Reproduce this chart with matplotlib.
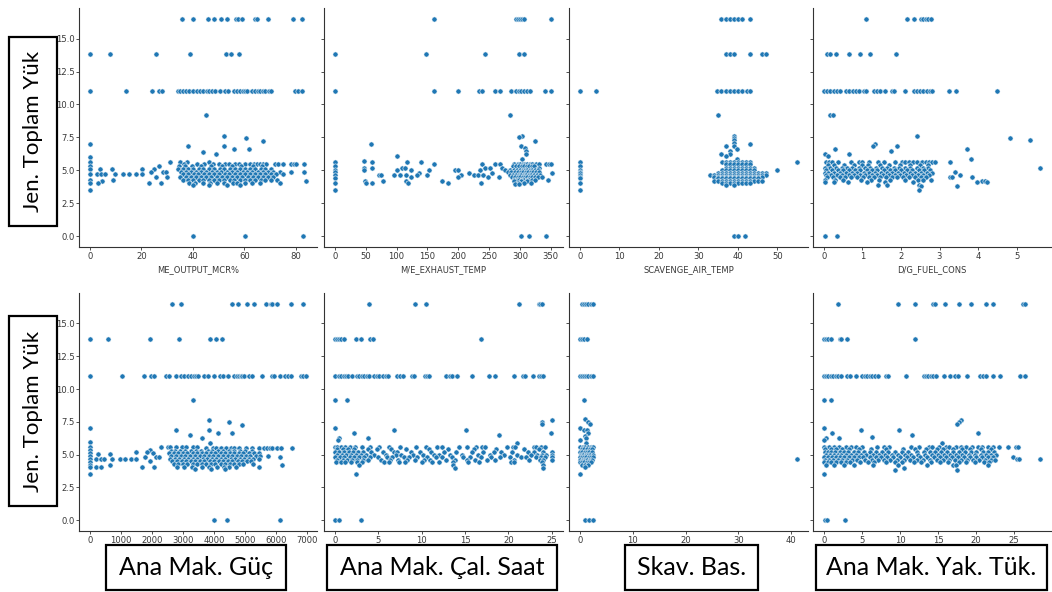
import matplotlib
matplotlib.use("Agg")
import matplotlib.pyplot as plt
from matplotlib.ticker import MultipleLocator
from matplotlib.patches import Rectangle

# ---- data: each panel is a list of (y value, [x values at that y]) ----
mcr_rows = [
    (16.5, [35.9, 40.0, 45.9, 48.4, 51.0, 53.4, 56.8, 57.6, 59.2, 64.3, 64.9, 69.1, 78.8, 82.2]),
    (13.8, [0.0, 7.8, 25.8, 38.8, 53.0, 55.0, 58.1]),
    (11.0, [0.0, 14.0, 24.0, 27.0, 28.0, 34.2, 35.1, 36.3, 37.4, 38.6, 40.0, 41.8, 42.9, 44.1,
            45.3, 46.4, 47.6, 48.7, 50.5, 52.6, 53.8, 56.1, 57.0, 58.2, 59.3, 60.4, 61.2, 63.1,
            64.0, 65.2, 66.1, 67.3, 68.2, 69.4, 70.3, 79.8, 81.0, 82.2]),
    (9.2, [45.2]),
    (7.6, [52.1]), (7.45, [60.7]), (7.25, [67.2]), (7.0, [0.0]), (6.85, [38.1, 51.9]),
    (6.6, [55.9, 61.8]), (6.4, [43.9]), (6.2, [49.1]), (6.0, [0.0]),
    (5.65, [0.0, 31.0, 35.2, 37.9, 46.2]),
    (5.5, [36.4, 41.7, 44.3, 47.8, 50.2, 52.4, 53.9, 56.3, 58.1, 60.2, 62.0, 63.8, 64.9, 66.2,
           67.1, 68.4, 71.8, 73.2, 75.0, 78.1, 79.3, 80.2, 83.1]),
    (5.3, [0.0, 26.9, 34.8, 37.1, 39.6, 43.2, 47.1, 51.3, 55.2, 58.7, 63.3, 66.8]),
    (5.1, [0.0, 3.9, 8.8, 20.4, 24.9, 34.1, 36.2, 38.3, 40.1, 42.4, 44.0, 46.3, 48.2, 50.4,
           52.1, 54.3, 56.2, 58.4, 60.1, 62.3, 64.2, 66.4, 68.1, 70.2]),
    (4.9, [23.9, 28.4, 29.7, 35.3, 37.2, 39.1, 41.3, 43.2, 45.1, 47.3, 49.2, 51.1, 53.3, 55.2,
           57.1, 59.3, 61.2, 63.1, 65.3, 67.2, 69.1, 71.3, 73.9, 78.0, 83.0]),
    (4.7, [0.0, 2.6, 4.5, 5.8, 9.7, 12.7, 15.2, 17.8, 20.4, 36.1, 38.2, 40.3, 42.1, 44.2, 46.3,
           48.1, 50.2, 52.3, 54.1, 56.2, 58.3, 60.1, 62.2, 64.3, 66.1, 68.2, 70.3, 72.1, 75.0]),
    (4.5, [25.8, 30.1, 35.2, 37.3, 39.2, 41.1, 43.3, 45.2, 47.1, 49.3, 51.2, 53.1, 55.3, 57.2,
           59.1, 61.3, 63.2, 65.1, 67.3, 69.2, 71.1]),
    (4.3, [0.0, 9.0, 36.3, 38.1, 40.2, 42.3, 44.1, 46.2, 48.3, 50.1, 52.2, 54.3, 56.1, 58.2,
           60.3, 62.1, 64.2, 66.3, 68.1, 70.2, 72.8]),
    (4.15, [4.9, 84.0]),
    (4.05, [0.0, 3.2, 22.9, 27.8, 38.4, 40.9, 43.8, 46.7, 49.3, 52.1, 55.4, 57.2, 60.1, 62.8,
            65.9, 74.0]),
    (3.85, [40.2, 46.1, 53.2, 58.4]),
    (3.5, [0.0]),
    (0.0, [40.0, 60.1, 82.9]),
]

exh_rows = [
    (16.5, [160.5, 294.0, 297.0, 300.5, 303.5, 307.0, 349.5]),
    (13.8, [0.0, 147.5, 243.0, 298.0, 306.0]),
    (11.0, [0.0, 160.5, 200.0, 234.0, 239.0, 259.0, 267.0, 286.0, 294.0, 298.0, 302.0, 306.0,
            312.0, 316.0, 340.0, 349.5]),
    (9.2, [283.0]),
    (7.6, [303.7]), (7.5, [298.0]), (7.25, [323.6]), (7.0, [59.2]), (6.85, [302.0]),
    (6.7, [307.5]), (6.5, [310.0]), (6.2, [309.0]), (6.05, [100.0]), (5.85, [303.0]),
    (5.7, [47.9]),
    (5.6, [0.0, 60.0, 117.4, 139.0]),
    (5.5, [160.5, 239.0, 259.0, 267.0, 290.0, 296.0, 300.0, 304.0, 308.0, 312.0, 316.0, 320.0,
           326.0, 330.0, 342.5, 346.8, 349.5]),
    (5.3, [0.0, 288.0, 294.0, 299.0, 303.0, 307.0, 311.0, 315.0, 319.0, 323.0]),
    (5.2, [47.9, 60.0, 108.0, 113.6, 244.0, 251.0, 270.0, 330.0]),
    (5.05, [0.0, 47.9, 100.0, 123.0, 152.0, 194.0, 200.0, 234.8, 275.0, 284.0, 290.0, 295.0,
            300.0, 304.0, 308.0, 312.0, 316.0, 320.0, 325.0, 329.0]),
    (4.9, [0.0, 280.6, 286.0, 292.0, 297.0, 301.0, 305.0, 309.0, 313.0, 317.0, 321.0, 326.0, 331.0]),
    (4.78, [136.0, 217.0, 255.0, 352.0]),
    (4.65, [0.0, 72.0, 75.0, 95.0, 105.5, 116.0, 132.5, 148.6, 205.0, 225.0, 232.0, 240.0,
            283.0, 289.0, 294.0, 298.0, 302.0, 306.0, 310.0, 314.0, 318.0, 322.0, 327.0, 333.0]),
    (4.5, [124.0, 198.7, 248.2, 266.0, 287.0, 292.0, 296.0, 300.0, 304.0, 308.0, 312.0, 316.0,
           320.0, 324.0, 329.0, 335.0]),
    (4.4, [0.0]),
    (4.3, [290.0, 295.0, 299.0, 303.0, 307.0, 311.0, 315.0, 319.0, 324.0, 345.0]),
    (4.2, [49.0, 78.6, 115.0, 174.0, 291.0, 301.0, 312.0]),
    (4.07, [0.0, 51.0, 60.0, 119.0, 182.5, 236.4, 296.0, 306.0, 318.0]),
    (3.95, [292.0, 298.0]),
    (3.5, [0.0]),
    (0.0, [302.0, 314.5, 342.5]),
]

scav_temp_rows = [
    (16.5, [35.8, 36.9, 37.9, 39.0, 40.0, 41.1, 43.0]),
    (13.8, [36.9, 37.9, 39.0, 43.0, 46.0, 47.0]),
    (11.0, [0.0, 4.0, 34.8, 35.8, 36.9, 37.9, 39.0, 40.0, 41.1, 42.2, 43.0]),
    (9.2, [35.0]),
    (7.6, [39.0]), (7.45, [39.0]), (7.27, [39.0]), (7.07, [39.0]), (7.0, [43.0]),
    (6.87, [37.1, 39.0]), (6.6, [39.9]), (6.43, [37.9]), (6.2, [35.8, 37.9]), (6.05, [37.1]),
    (5.85, [39.9]),
    (5.62, [0.0, 36, 37, 38, 39, 40, 41, 42, 43, 55.0]),
    (5.5, [37, 38, 39, 40, 41, 42, 43]),
    (5.34, [0.0]),
    (5.2, [37, 38, 39, 40, 41, 42, 43, 44]),
    (5.05, [0.0, 36, 37, 38, 39, 40, 41, 42, 43, 44, 50.0]),
    (4.9, [0.0]),
    (4.83, [0.0, 35, 36, 37, 38, 39, 40, 41, 42, 43, 44, 45, 46, 47]),
    (4.65, [0.0, 33, 34, 35, 36, 37, 38, 39, 40, 41, 42, 43, 44, 45, 46, 47]),
    (4.5, [0.0, 34, 35, 36, 37, 38, 39, 40, 41, 42, 43, 44, 45, 46]),
    (4.4, [0.0, 35, 36, 37, 38, 39, 40, 41, 42, 43, 44, 45]),
    (4.2, [34, 35, 36, 37, 38, 39, 40, 41, 42, 43, 44, 45, 46]),
    (4.07, [0.0, 36, 37, 38, 39, 40, 41, 42, 43]),
    (3.85, [37, 39]),
    (3.5, [0.0]),
    (0.0, [39.0, 40.0, 41.9]),
]

dg_fuel_rows = [
    (16.5, [1.09, 2.15, 2.34, 2.51, 2.58, 2.64, 2.71, 2.77]),
    (13.8, [0.09, 0.15, 0.32, 0.66, 0.95, 1.2, 1.87]),
    (11.0, [0.0, 0.09, 0.17, 0.26, 0.34, 0.43, 0.58, 0.66, 0.75, 0.83, 0.92, 1.03, 1.09, 1.29,
            1.38, 1.46, 1.59, 1.76, 1.81, 2.11, 2.35, 2.41, 2.5, 2.58, 2.67, 2.75, 2.8, 3.24,
            3.44, 4.5]),
    (9.2, [0.17, 0.23]),
    (7.63, [2.41]), (7.45, [4.82]), (7.27, [5.34]), (7.0, [1.32]), (6.87, [1.27, 1.89]),
    (6.64, [0.28, 3.7]), (6.43, [1.75]), (6.23, [0.04, 0.66]), (6.05, [0.11]), (5.85, [3.81]),
    (5.6, [0.05, 0.14, 0.22, 0.37, 0.7, 0.9, 1.0, 1.17, 1.41, 1.56, 1.84, 2.02, 2.1, 2.2, 2.3,
           2.42, 2.55, 2.65, 2.72, 2.8, 2.87, 3.27]),
    (5.4, [0.1, 0.26, 0.52, 0.79, 0.98, 1.14, 1.46, 1.7, 1.98, 2.24, 2.49, 2.69]),
    (5.2, [0.03, 0.16, 0.31, 0.47, 0.61, 0.74, 0.91, 1.06, 1.19, 1.36, 1.52, 1.64, 1.81, 1.96,
           2.11, 2.24, 2.41, 2.56, 2.71, 5.61]),
    (5.0, [0.06, 0.2, 0.36, 0.49, 0.66, 0.81, 0.94, 1.11, 1.26, 1.39, 1.56, 1.71, 1.84, 2.01,
           2.16, 2.29, 2.46, 2.61, 2.76]),
    (4.9, [3.4]),
    (4.8, [0.02, 0.12, 0.27, 0.43, 0.57, 0.73, 0.87, 1.03, 1.17, 1.33, 1.47, 1.63, 1.77, 1.93,
           2.07, 2.23, 2.37, 2.53, 2.67, 2.81]),
    (4.65, [0.05, 0.19, 0.34, 0.48, 0.64, 0.78, 0.94, 1.08, 1.24, 1.38, 1.54, 1.68, 1.84, 1.98,
            2.14, 2.28, 2.44, 2.58, 2.74, 3.53]),
    (4.5, [0.08, 0.23, 0.41, 0.56, 0.71, 0.86, 1.01, 1.16, 1.31, 1.46, 1.61, 1.76, 1.91, 2.06,
           2.21, 2.36, 2.51, 2.66, 3.27, 3.33, 3.83]),
    (4.3, [0.04, 0.29, 0.51, 0.96, 1.22, 1.43, 1.71, 2.11, 2.44, 2.58, 2.79]),
    (4.2, [4.1, 4.17]),
    (4.1, [0.03, 0.26, 0.63, 1.12, 1.58, 2.31, 3.96, 4.23]),
    (3.9, [1.41, 1.63, 2.46]),
    (3.77, [3.46, 2.51]),
    (3.5, [2.48]),
    (0.0, [0.04, 0.34]),
]

me_power_rows = [
    (16.5, [2650, 2950, 4560, 4765, 5063, 5287, 5660, 5820, 5875, 6034, 6472, 6857]),
    (13.8, [0, 587, 1922, 2862, 3877, 4058, 4250]),
    (11.0, [0, 1025, 1741, 1976, 2050, 2456, 2563, 2777, 2937, 3044, 3150, 3257, 3364, 3417,
            3471, 3685, 3791, 4005, 4197, 4272, 4432, 4646, 4752, 4806, 4860, 4913, 4966, 5126,
            5233, 5554, 5853, 5928, 6109, 6280, 6387, 6472, 6782, 6857, 6963]),
    (9.2, [3311]),
    (7.63, [3823]), (7.45, [4486]), (7.27, [4913]), (7.0, [0]), (6.86, [2777, 3823]),
    (6.64, [4112, 4560]), (6.46, [3236]), (6.23, [3610]), (6.0, [0]), (5.87, [3877]),
    (5.6, [0, 2296, 2510, 2585, 2777, 2970, 3097, 3311, 3439]),
    (5.5, [3738, 3952, 4058, 4219, 4379, 4539, 4646, 4806, 5020, 5233, 5447, 5607, 5692, 5789,
           5875, 6034, 6141, 6493]),
    (5.34, [0, 1922]),
    (5.3, [2610, 2740, 2910, 3070, 3260, 3410, 3590, 3790, 3940, 4130, 4290, 4480, 4640, 4830,
           4990, 5210]),
    (5.2, [1474, 1848]),
    (5.1, [0, 2029, 2540, 2710, 2840, 3010, 3140, 3310, 3440, 3610, 3740, 3910, 4040, 4210,
           4340, 4510, 4640, 4810, 4940, 5110, 5290, 5460]),
    (5.03, [267, 641]),
    (4.9, [0, 2620, 2770, 2940, 3070, 3240, 3370, 3540, 3670, 3840, 3970, 4140, 4270, 4440,
           4570, 4740, 4870, 5040, 5170, 5340, 5490, 5746]),
    (4.83, [1762, 2136, 2221, 6120]),
    (4.7, [0, 214, 374, 449, 726, 961, 1121, 1335, 1474, 2580, 2730, 2860, 3030, 3160, 3330,
           3460, 3630, 3760, 3930, 4060, 4230, 4360, 4530, 4660, 4830, 4960, 5130, 5260, 5430]),
    (4.5, [1944, 2660, 2790, 2960, 3090, 3260, 3390, 3560, 3690, 3860, 3990, 4160, 4290, 4460,
           4590, 4760, 4890, 5060, 5190]),
    (4.4, [0]),
    (4.3, [2710, 2840, 3010, 3140, 3310, 3440, 3610, 3740, 3910, 4040, 4210, 4340, 4510, 4640,
           4810, 4940, 5260]),
    (4.2, [0, 641, 6194]),
    (4.07, [0, 192, 352, 1687, 2061, 2800, 3020, 3290, 3610, 3850, 4090, 4310, 4490, 4720, 5447]),
    (3.9, [3400, 3900, 4350]),
    (3.5, [0]),
    (0.0, [3984, 4421, 6109]),
]

me_hours_rows = [
    (16.5, [3.98, 9.23, 10.45, 21.17, 23.47, 23.66, 23.9]),
    (13.8, [0.0, 0.23, 0.5, 0.73, 1.07, 2.45, 2.99, 4.06, 4.44, 16.8]),
    (11.0, [0.0, 0.5, 0.69, 1.0, 1.3, 1.57, 2.03, 2.53, 2.83, 3.1, 3.41, 3.68, 3.98, 4.56, 4.82,
            5.13, 5.59, 5.86, 6.09, 7.2, 7.5, 7.81, 8.84, 9.11, 10.37, 10.57, 10.87, 12.86,
            13.25, 13.51, 14.13, 15.81, 17.73, 18.42, 20.6, 21.67, 21.94, 22.82, 23.51, 23.77,
            23.97]),
    (9.2, [0.0, 1.45]),
    (7.63, [25.04]), (7.5, [23.9]), (7.3, [23.9]), (7.04, [0.04]), (6.89, [6.81, 15.16]),
    (6.64, [2.26, 24.9]), (6.46, [18.9]), (6.28, [0.42]), (6.23, [3.87]), (6.08, [0.31]),
    (5.87, [20.98]),
    (5.6, [0.0, 0.3, 0.7, 1.2, 1.7, 2.3, 3.1, 4.1, 5.1, 6.2, 7.5, 9.4, 10.5, 11.8, 12.4, 14.3,
           15.2, 16.3, 17.0, 17.3, 19.8, 20.5, 20.8, 22.9, 23.2, 23.8, 24.2]),
    (5.4, [0.2, 0.9, 1.5, 2.2, 3.8, 4.8, 6.5, 8.2, 10.9, 13.0, 16.0, 18.6, 21.8, 23.5]),
    (5.2, [0.0, 0.5, 1.0, 1.6, 2.1, 2.7, 3.3, 4.2, 5.5, 6.8, 7.2, 8.8, 9.8, 11.1, 12.6, 14.0,
           15.8, 17.1, 18.3, 19.2, 20.4, 22.3, 23.0, 24.0, 25.0]),
    (5.0, [0.3, 0.8, 1.3, 1.9, 2.4, 3.0, 3.6, 4.5, 5.9, 7.0, 7.6, 9.0, 10.2, 11.4, 12.0, 13.3,
           14.6, 16.5, 17.9, 19.5, 21.0, 22.6, 23.3, 23.9, 24.3, 25.0]),
    (4.8, [0.0, 0.6, 1.1, 1.7, 2.2, 2.8, 3.4, 4.0, 5.0, 6.0, 6.6, 8.0, 8.6, 9.5, 10.6, 11.7,
           12.3, 13.5, 14.8, 15.6, 16.8, 18.0, 19.0, 20.2, 21.5, 22.0, 23.2, 23.7, 24.2, 25.0]),
    (4.6, [0.2, 0.9, 1.4, 2.0, 2.6, 3.2, 3.8, 5.3, 6.4, 7.3, 8.3, 9.2, 10.3, 11.0, 12.8, 13.9,
           15.2, 16.1, 17.5, 18.4, 20.6, 22.4, 23.6, 24.0, 25.0]),
    (4.4, [0.1, 0.7, 1.2, 1.9, 2.5, 3.1, 5.7, 6.2, 7.4, 8.1, 10.0, 11.2, 12.0, 13.6, 15.3, 16.6,
           20.3, 20.6, 23.9]),
    (4.2, [2.8, 13.6, 24.0]),
    (4.0, [13.8, 24.0]),
    (3.53, [2.45]),
    (0.0, [0.0, 0.5, 2.99]),
]

scav_press_rows = [
    (16.5, [0.32, 0.76, 1.14, 1.58, 2.08, 2.52]),
    (13.8, [0.0, 0.44, 0.82, 1.39]),
    (11.0, [0.0, 0.44, 0.82, 1.14, 1.58, 2.08, 2.52]),
    (9.2, [0.82]),
    (7.68, [0.95]), (7.5, [1.45]), (7.3, [1.89]), (7.04, [0.0]), (6.89, [0.76, 1.26]),
    (6.66, [1.45]), (6.43, [0.95]), (6.23, [1.14]), (6.08, [0.0]), (5.92, [1.14]),
    (5.6, [0.0, 0.52, 1.03, 1.61, 2.12, 2.48]),
    (5.4, [0.31, 0.83, 1.28, 1.92, 2.33]),
    (5.2, [0.0, 0.42, 0.91, 1.37, 1.81, 2.22]),
    (5.0, [0.18, 0.63, 1.08, 1.52, 1.98, 2.41]),
    (4.8, [0.0, 0.39, 0.84, 1.23, 1.69, 2.11, 2.53]),
    (4.65, [41.1]),
    (4.6, [0.12, 0.58, 1.02, 1.44, 1.88, 2.31]),
    (4.4, [0.0, 0.33, 0.79, 1.27, 1.72, 2.09]),
    (4.2, [0.48, 0.97, 1.52]),
    (4.05, [1.03]),
    (3.53, [0.0]),
    (0.0, [0.95, 1.7, 2.52]),
]

me_fuel_rows = [
    (16.5, [1.84, 9.74, 11.93, 14.34, 14.56, 15.88, 17.68, 19.3, 21.27, 22.15, 26.18, 26.4]),
    (13.8, [0.0, 0.31, 0.57, 0.88, 2.06, 2.32, 2.98, 11.97]),
    (11.0, [0.0, 0.31, 0.57, 0.88, 1.18, 1.54, 1.89, 2.28, 2.98, 3.42, 4.17, 5.04, 5.39, 5.7,
            6.05, 6.36, 6.71, 7.15, 8.2, 8.46, 10.75, 13.16, 13.46, 13.73, 14.04, 14.34, 14.78,
            15.79, 16.54, 17.19, 17.63, 18.73, 20.53, 20.83, 21.27, 22.15, 23.16, 25.75, 26.45]),
    (9.2, [0.0, 0.88]),
    (7.63, [17.98]), (7.45, [17.68]), (7.3, [17.54]), (7.04, [0.0]), (6.89, [4.91, 9.87]),
    (6.66, [1.1, 20.3]), (6.46, [11.62]), (6.33, [6.36]), (6.28, [0.31]), (6.23, [1.97]),
    (6.08, [0.0]), (5.87, [15.48]),
    (5.6, [0.0, 0.66, 1.32, 1.97, 2.85, 3.51, 4.17, 5.04, 7.0, 7.9, 8.55, 11.4, 12.5, 13.8,
           14.25, 15.1, 16.0, 16.45, 17.3, 17.98, 18.6, 19.5, 20.2, 20.8, 21.5, 22.15, 23.0,
           24.2, 25.2, 25.5]),
    (5.4, [0.2, 0.9, 1.6, 2.4, 3.3, 4.6, 6.2, 8.1, 10.4, 12.0, 13.4, 14.9, 15.6, 16.9, 18.1,
           19.2, 20.6, 21.9]),
    (5.2, [0.1, 0.5, 1.0, 1.5, 2.1, 2.6, 3.2, 3.9, 4.5, 5.3, 6.0, 6.9, 7.7, 8.4, 9.3, 10.3,
           11.1, 12.2, 13.1, 13.9, 14.6, 15.4, 16.2, 17.0, 17.8, 18.5, 19.3, 20.0, 20.9, 21.6,
           22.3]),
    (5.0, [0.3, 0.8, 1.3, 1.8, 2.3, 2.9, 3.6, 4.2, 4.9, 5.6, 6.4, 7.2, 8.0, 8.9, 9.8, 10.7,
           11.5, 12.4, 13.3, 14.2, 15.0, 15.8, 16.6, 17.4, 18.2, 19.0, 19.8, 20.6, 21.3, 22.0,
           22.6]),
    (4.83, [24.8]),
    (4.8, [0.0, 0.5, 1.1, 1.6, 2.1, 2.7, 3.3, 3.9, 4.6, 5.2, 6.1, 6.8, 7.5, 8.3, 9.1, 10.0,
           10.9, 11.7, 12.6, 13.5, 14.4, 15.2, 16.0, 16.8, 17.6, 18.4, 19.2, 20.0, 20.8, 21.5,
           22.2]),
    (4.65, [25.4, 25.6, 28.4]),
    (4.6, [0.2, 0.7, 1.2, 1.8, 2.4, 3.0, 3.7, 4.4, 5.4, 6.3, 7.1, 7.9, 8.7, 9.6, 10.5, 11.3,
           12.2, 13.0, 13.9, 14.8, 15.6, 16.4, 17.2, 18.0, 18.8, 19.6, 20.4, 21.2, 21.9, 22.5]),
    (4.4, [0.0, 0.5, 1.0, 1.6, 2.2, 2.9, 3.5, 4.8, 5.8, 6.6, 8.1, 9.4, 10.2, 11.8, 12.8, 14.1,
           15.3, 16.3, 17.7, 18.6, 19.9, 21.0, 21.7]),
    (4.2, [0.3, 1.3, 2.6, 3.9, 6.4, 9.8, 13.6, 16.9, 17.4, 21.5]),
    (3.99, [10.57]),
    (3.81, [9.34, 17.5]),
    (3.53, [0.0]),
    (0.0, [0.13, 0.44, 2.72]),
]

top_xlabels = ["ME_OUTPUT_MCR%", "M/E_EXHAUST_TEMP", "SCAVENGE_AIR_TEMP", "D/G_FUEL_CONS"]
bottom_names = ["Ana Mak. Güç", "Ana Mak. Çal. Saat", "Skav. Bas.", "Ana Mak. Yak. Tük."]
y_name = "Jen. Toplam Yük"


def expand(rows):
    xs, ys = [], []
    for y, row in rows:
        xs.extend(row)
        ys.extend([y] * len(row))
    return xs, ys


W, H = 1052, 592
fig = plt.figure(figsize=(W / 100, H / 100), dpi=100)
fig.patch.set_facecolor("white")


def frac_rect(l, t, r, b):
    return [l / W, 1 - b / H, (r - l) / W, (b - t) / H]


col_px = [(79, 317), (324, 563), (569, 808), (813, 1051)]
row_px = [(8, 247), (293, 531)]

panels = [
    [(mcr_rows, 20), (exh_rows, 50), (scav_temp_rows, 10), (dg_fuel_rows, 1)],
    [(me_power_rows, 1000), (me_hours_rows, 5), (scav_press_rows, 10), (me_fuel_rows, 5)],
]

DOT = "#1f77b4"
INK = "0.2"

for r, (top, bot) in enumerate(row_px):
    first = None
    for c, (left, right) in enumerate(col_px):
        rows, step = panels[r][c]
        ax = fig.add_axes(frac_rect(left, top, right, bot), sharey=first)
        ax.set_zorder(2)
        ax.patch.set_alpha(0)
        if first is None:
            first = ax
        xs, ys = expand(rows)
        ax.scatter(xs, ys, s=14, color=DOT, edgecolors="white", linewidths=0.4, zorder=3)
        ax.xaxis.set_major_locator(MultipleLocator(step))
        ax.yaxis.set_major_locator(MultipleLocator(2.5))
        for side in ("top", "right"):
            ax.spines[side].set_visible(False)
        for side in ("left", "bottom"):
            ax.spines[side].set_color(INK)
            ax.spines[side].set_linewidth(0.8)
        ax.tick_params(length=2.5, width=0.6, color=INK, labelcolor="0.22",
                       labelsize=6.1, pad=0.8)
        if c > 0:
            ax.tick_params(labelleft=False)
        if r == 0:
            ax.set_xlabel(top_xlabels[c], fontsize=6, color="0.22", labelpad=3)


# boxed annotations (drawn beneath the axes so tick labels stay visible)
def boxed(l, t, r, b, text, rotation=0, size=18):
    fig.patches.append(Rectangle((l / W, 1 - b / H), (r - l) / W, (b - t) / H,
                                 transform=fig.transFigure, facecolor="white",
                                 edgecolor="black", linewidth=1.6, zorder=1))
    fig.text((l + r) / 2 / W, 1 - (t + b) / 2 / H, text, rotation=rotation,
             ha="center", va="center", fontsize=size, family="Lato",
             color="black", zorder=1.5)


boxed(9, 37, 57, 226, y_name, rotation=90, size=16)
boxed(9, 316, 57, 506, y_name, rotation=90, size=16)
bottom_box_px = [(106, 286), (327, 557), (625, 758), (816, 1047)]
for (l, r), name in zip(bottom_box_px, bottom_names):
    boxed(l, 545, r, 590, name)

fig.savefig("out.png", dpi=100)
